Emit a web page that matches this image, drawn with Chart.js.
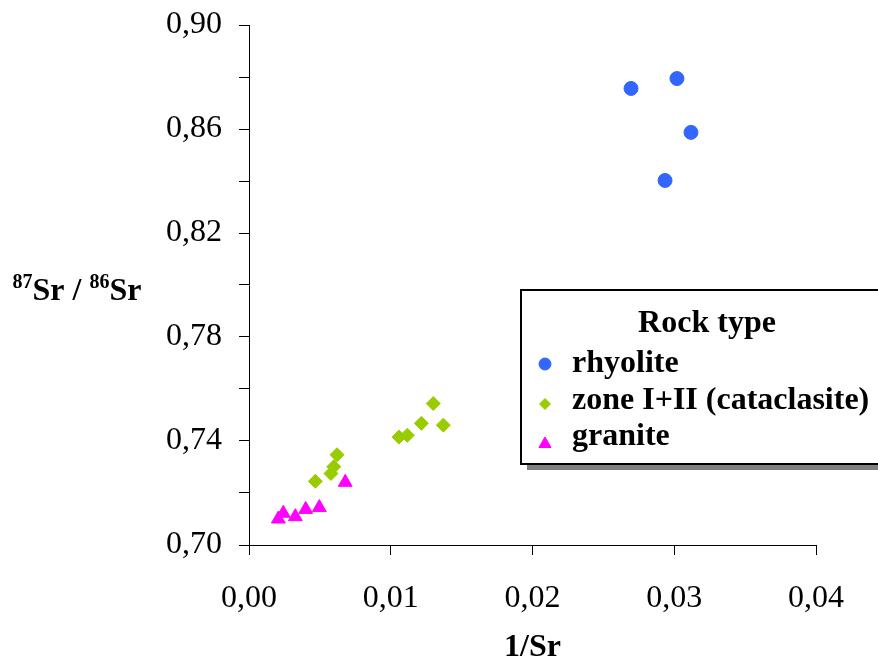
<!DOCTYPE html>
<html>
<head>
<meta charset="utf-8">
<title>87Sr/86Sr vs 1/Sr</title>
<script src="https://cdn.jsdelivr.net/npm/chart.js@4/dist/chart.umd.min.js"></script>
<style>
  html, body { margin: 0; padding: 0; background: #ffffff; }
  canvas { display: block; }
</style>
</head>
<body>
<canvas id="c" width="878" height="664"></canvas>
<script>
// 1/Sr (x) and 87Sr/86Sr (y) for each rock type
const rhyoliteX = [0.02695, 0.03019, 0.03118, 0.02935];
const rhyoliteY = [0.8756, 0.8794, 0.8587, 0.8402];

const zoneX = [0.01300, 0.01371, 0.01216, 0.01117, 0.01058, 0.00621, 0.00598, 0.00578, 0.00468];
const zoneY = [0.7544, 0.7461, 0.7468, 0.7422, 0.7415, 0.7347, 0.7301, 0.7275, 0.7245];

const graniteX = [0.00242, 0.00207, 0.00327, 0.00400, 0.00496, 0.00679];
const graniteY = [0.7122, 0.7100, 0.7109, 0.7137, 0.7144, 0.7241];

const seriesNames = ['rhyolite', 'zone I+II (cataclasite)', 'granite'];
const legendTitle = 'Rock type';

const xTickLabels = ['0,00', '0,01', '0,02', '0,03', '0,04'];
const yTickLabels = ['0,70', '0,74', '0,78', '0,82', '0,86', '0,90'];

const xTitle = '1/Sr';
const yTitleParts = [['87', true], ['Sr / ', false], ['86', true], ['Sr', false]];

const FONT = '"Liberation Serif", "Times New Roman", serif';

const toPoints = (xs, ys) => xs.map((x, i) => ({ x: x, y: ys[i] }));

const datasets = [
  {
    label: seriesNames[0],
    data: toPoints(rhyoliteX, rhyoliteY),
    pointStyle: 'circle',
    pointRadius: 7,
    borderWidth: 1,
    backgroundColor: '#3366FF',
    borderColor: '#3366FF',
    legendRadius: 6
  },
  {
    label: seriesNames[1],
    data: toPoints(zoneX, zoneY),
    pointStyle: 'rectRot',
    pointRadius: 7,
    borderWidth: 1,
    backgroundColor: '#99CC00',
    borderColor: '#99CC00',
    legendRadius: 5.5
  },
  {
    label: seriesNames[2],
    data: toPoints(graniteX, graniteY),
    pointStyle: 'triangle',
    pointRadius: 8,
    borderWidth: 1,
    backgroundColor: '#FF00FF',
    borderColor: '#FF00FF',
    legendRadius: 7
  }
];

// Y-axis title with superscript isotope masses
const yTitlePlugin = {
  id: 'yTitle',
  afterDraw(chart) {
    const ctx = chart.ctx;
    const big = 'bold 32px ' + FONT;
    const small = 'bold 20px ' + FONT;
    ctx.save();
    ctx.fillStyle = '#000';
    ctx.textBaseline = 'alphabetic';
    ctx.textAlign = 'left';
    let total = 0;
    yTitleParts.forEach(([t, sup]) => { ctx.font = sup ? small : big; total += ctx.measureText(t).width; });
    let x = 77 - total / 2;
    const baseline = 300;
    yTitleParts.forEach(([t, sup]) => {
      ctx.font = sup ? small : big;
      ctx.fillText(t, x, sup ? baseline - 12 : baseline);
      x += ctx.measureText(t).width;
    });
    ctx.restore();
  }
};

// Boxed legend with drop shadow, drawn inside the plot
const boxLegendPlugin = {
  id: 'boxLegend',
  afterDraw(chart) {
    const ctx = chart.ctx;
    const bx = 521, by = 290, bw = 380, bh = 174;
    ctx.save();
    ctx.fillStyle = '#808080';
    ctx.fillRect(bx + 6, by + 6, bw, bh);
    ctx.fillStyle = '#ffffff';
    ctx.fillRect(bx, by, bw, bh);
    ctx.strokeStyle = '#000';
    ctx.lineWidth = 2;
    ctx.strokeRect(bx, by, bw, bh);

    ctx.fillStyle = '#000';
    ctx.font = 'bold 32px ' + FONT;
    ctx.textBaseline = 'alphabetic';
    ctx.textAlign = 'center';
    ctx.fillText(legendTitle, 707, 332);

    const rowBase = [372, 408.5, 445];
    const markY = [364, 404, 444];
    ctx.textAlign = 'left';
    chart.data.datasets.forEach((ds, i) => {
      ctx.fillStyle = ds.backgroundColor;
      ctx.strokeStyle = ds.borderColor;
      ctx.lineWidth = 1;
      Chart.helpers.drawPoint(ctx, {
        pointStyle: ds.pointStyle,
        radius: ds.legendRadius,
        rotation: 0,
        borderWidth: 1
      }, 545, markY[i]);
      ctx.fillStyle = '#000';
      ctx.font = 'bold 32px ' + FONT;
      ctx.fillText(ds.label, 572, rowBase[i]);
    });
    ctx.restore();
  }
};

new Chart(document.getElementById('c'), {
  type: 'scatter',
  data: { datasets: datasets },
  options: {
    responsive: false,
    devicePixelRatio: 1,
    animation: false,
    layout: { padding: { left: 0, top: 25, right: 62, bottom: 0 } },
    plugins: {
      legend: { display: false },
      tooltip: { enabled: false }
    },
    scales: {
      x: {
        type: 'linear',
        min: 0,
        max: 0.04,
        afterFit(scale) {
          scale.height = 119;
          scale.paddingLeft = 0;
          scale.paddingRight = 0;
        },
        ticks: {
          stepSize: 0.01,
          padding: 24,
          color: '#000',
          font: { family: FONT, size: 32 },
          callback: (v, i) => xTickLabels[i] ?? ''
        },
        grid: { drawOnChartArea: false, drawTicks: true, tickLength: 10, color: '#000' },
        border: { color: '#000', width: 1 },
        title: {
          display: true,
          text: xTitle,
          color: '#000',
          font: { family: FONT, size: 32, weight: 'bold', lineHeight: 1 },
          padding: { top: 0, bottom: 0 }
        }
      },
      y: {
        type: 'linear',
        min: 0.70,
        max: 0.90,
        afterFit(scale) {
          scale.width = 249;
          scale.paddingTop = 0;
          scale.paddingBottom = 0;
        },
        ticks: {
          stepSize: 0.02,
          padding: 17,
          color: '#000',
          font: { family: FONT, size: 32 },
          callback: (v, i) => (i % 2 === 0 ? (yTickLabels[i / 2] ?? '') : '')
        },
        grid: { drawOnChartArea: false, drawTicks: true, tickLength: 10, color: '#000' },
        border: { color: '#000', width: 1 }
      }
    }
  },
  plugins: [yTitlePlugin, boxLegendPlugin]
});
</script>
</body>
</html>
